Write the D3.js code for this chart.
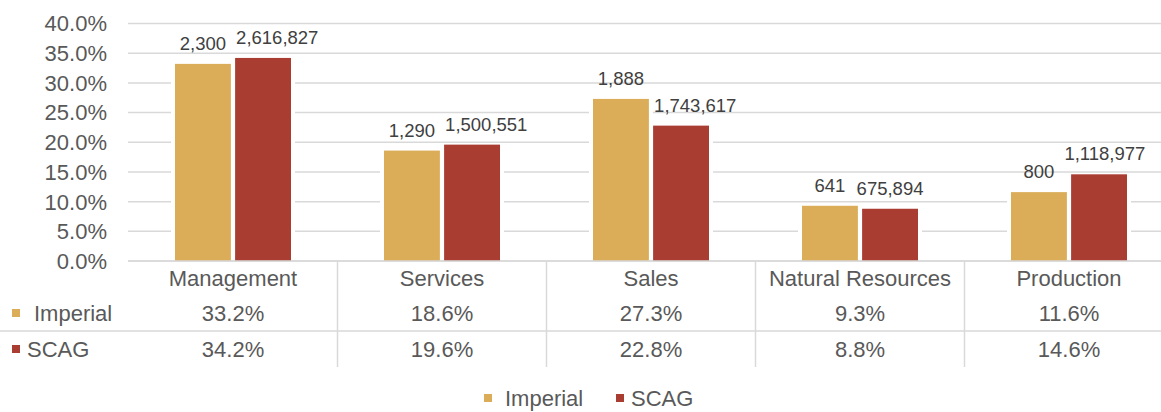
<!DOCTYPE html>
<html>
<head>
<meta charset="utf-8">
<script src="https://cdn.jsdelivr.net/npm/d3@7"></script>
<style>
  body { margin: 0; background: #fff; }
  text { font-family: "Liberation Sans", Arial, sans-serif; }
</style>
</head>
<body>
<svg class="canvas"></svg>
<script>
var categories = ["Management", "Services", "Sales", "Natural Resources", "Production"];
var seriesNames = ["Imperial", "SCAG"];
var imperialShare = [0.332, 0.186, 0.273, 0.093, 0.116];
var scagShare = [0.342, 0.196, 0.228, 0.088, 0.146];
var imperialCount = ["2,300", "1,290", "1,888", "641", "800"];
var scagCount = ["2,616,827", "1,500,551", "1,743,617", "675,894", "1,118,977"];
var yTicks = [0, 0.05, 0.10, 0.15, 0.20, 0.25, 0.30, 0.35, 0.40];
var colors = ["#dbad58", "#a93d32"];

function display() {
  var width = 1161;
  var height = 412;
  var gridColor = "#d9d9d9";
  var textColor = "#595959";

  var svg = d3.select(".canvas")
    .attr("width", width)
    .attr("height", height);

  var y = d3.scaleLinear().domain([0, 0.4]).range([261, 23.5]);
  var x0 = d3.scaleBand().domain(categories).range([128.5, 1173.5]);
  var x1 = d3.scaleBand().domain(seriesNames).range([46.5, 162.5]).paddingInner(0.07);
  var pct = d3.format(".1%");

  // gridlines + y labels
  svg.append("g")
    .selectAll("line")
    .data(yTicks)
    .enter()
    .append("line")
    .attr("x1", 128)
    .attr("x2", width)
    .attr("y1", function(d) { return y(d); })
    .attr("y2", function(d) { return y(d); })
    .attr("stroke", gridColor)
    .attr("stroke-width", 1.5);

  svg.append("g")
    .selectAll("text")
    .data(yTicks)
    .enter()
    .append("text")
    .attr("x", 107)
    .attr("y", function(d) { return y(d); })
    .attr("dy", "0.36em")
    .attr("text-anchor", "end")
    .attr("font-size", 22)
    .attr("fill", textColor)
    .text(function(d) { return pct(d); });

  var rows = categories.map(function(c, i) {
    return { cat: c, vals: [imperialShare[i], scagShare[i]], counts: [imperialCount[i], scagCount[i]] };
  });

  var groups = svg.selectAll(".grp")
    .data(rows)
    .enter()
    .append("g")
    .attr("class", "grp")
    .attr("transform", function(d) { return "translate(" + x0(d.cat) + ",0)"; });

  // white gap round the bars
  groups.selectAll(".halo")
    .data(function(d) { return d.vals; })
    .enter()
    .append("rect")
    .attr("class", "halo")
    .attr("x", function(d, i) { return x1(seriesNames[i]) - 4; })
    .attr("width", x1.bandwidth() + 8)
    .attr("y", function(d) { return y(d); })
    .attr("height", function(d) { return y(0) - y(d) - 1; })
    .attr("fill", "#fff");

  groups.selectAll(".bar")
    .data(function(d) { return d.vals; })
    .enter()
    .append("rect")
    .attr("class", "bar")
    .attr("x", function(d, i) { return x1(seriesNames[i]); })
    .attr("width", x1.bandwidth())
    .attr("y", function(d) { return y(d); })
    .attr("height", function(d) { return y(0) - y(d); })
    .attr("fill", function(d, i) { return colors[i]; });

  // count labels, SCAG label pushed right when it hits the Imperial one
  groups.each(function(d) {
    var g = d3.select(this);
    var cx0 = x1(seriesNames[0]) + x1.bandwidth() / 2;
    var cx1 = x1(seriesNames[1]) + x1.bandwidth() / 2;
    var t0 = g.append("text")
      .attr("x", cx0)
      .attr("y", y(d.vals[0]) - 14)
      .attr("text-anchor", "middle")
      .attr("font-size", 18.5)
      .attr("fill", "#404040")
      .text(d.counts[0]);
    var w0 = t0.node().getComputedTextLength();
    var t1 = g.append("text")
      .attr("y", y(d.vals[1]) - 14)
      .attr("font-size", 18.5)
      .attr("fill", "#404040")
      .text(d.counts[1]);
    var w1 = t1.node().getComputedTextLength();
    t1.attr("x", Math.max(cx1 - w1 / 2, cx0 + w0 / 2 + 10));
  });

  // axis line
  svg.append("line")
    .attr("x1", 128).attr("x2", width)
    .attr("y1", y(0)).attr("y2", y(0))
    .attr("stroke", gridColor).attr("stroke-width", 1.5);

  // data table
  svg.append("line")
    .attr("x1", 0).attr("x2", width)
    .attr("y1", 331).attr("y2", 331)
    .attr("stroke", gridColor).attr("stroke-width", 1.5);

  svg.append("g")
    .selectAll("line")
    .data(categories.slice(1))
    .enter()
    .append("line")
    .attr("x1", function(d) { return x0(d); })
    .attr("x2", function(d) { return x0(d); })
    .attr("y1", y(0))
    .attr("y2", 367)
    .attr("stroke", gridColor)
    .attr("stroke-width", 1.5);

  var cells = svg.append("g")
    .selectAll("g")
    .data(rows)
    .enter()
    .append("g")
    .attr("transform", function(d) { return "translate(" + (x0(d.cat) + x0.bandwidth() / 2) + ",0)"; })
    .attr("text-anchor", "middle")
    .attr("font-size", 22)
    .attr("fill", textColor);

  cells.append("text").attr("y", 278).attr("dy", "0.36em").text(function(d) { return d.cat; });
  cells.append("text").attr("y", 313).attr("dy", "0.36em").text(function(d) { return pct(d.vals[0]); });
  cells.append("text").attr("y", 349).attr("dy", "0.36em").text(function(d) { return pct(d.vals[1]); });

  // row keys
  var rowY = [313, 349];
  var rowTextX = [34, 27];
  seriesNames.forEach(function(s, i) {
    svg.append("rect")
      .attr("x", 12).attr("y", rowY[i] - 4)
      .attr("width", 8).attr("height", 8)
      .attr("fill", colors[i]);
    svg.append("text")
      .attr("x", rowTextX[i]).attr("y", rowY[i])
      .attr("dy", "0.36em")
      .attr("font-size", 22)
      .attr("fill", textColor)
      .text(s);
  });

  // legend
  var legend = svg.append("g").attr("transform", "translate(484,398)");
  var legX = [0, 132];
  var legTextX = [21, 15];
  seriesNames.forEach(function(s, i) {
    legend.append("rect")
      .attr("x", legX[i]).attr("y", -4)
      .attr("width", 8).attr("height", 8)
      .attr("fill", colors[i]);
    legend.append("text")
      .attr("x", legX[i] + legTextX[i]).attr("y", 0)
      .attr("dy", "0.36em")
      .attr("font-size", 22)
      .attr("fill", textColor)
      .text(s);
  });
}

display();
</script>
</body>
</html>
